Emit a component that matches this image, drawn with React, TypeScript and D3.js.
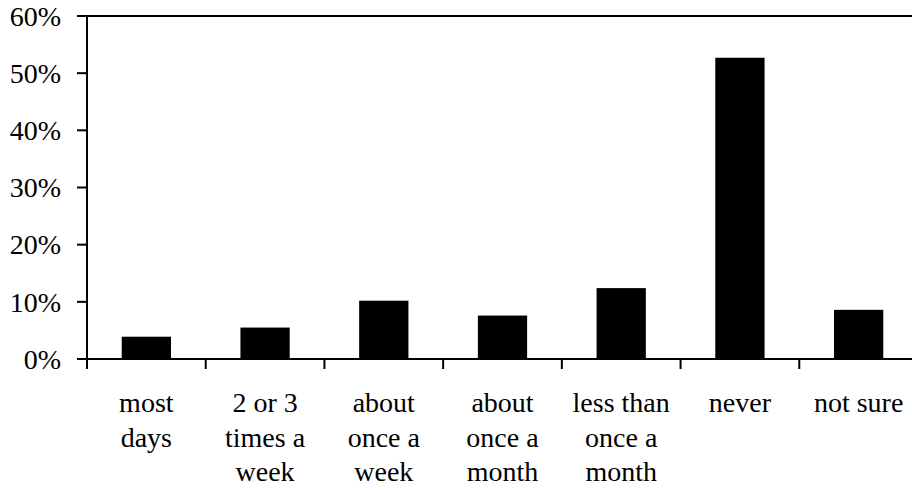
import React from "react";
import * as d3 from "d3";

const categories: string[][] = [
  ["most", "days"],
  ["2 or 3", "times a", "week"],
  ["about", "once a", "week"],
  ["about", "once a", "month"],
  ["less than", "once a", "month"],
  ["never"],
  ["not sure"],
];
const values: number[] = [0.039, 0.055, 0.102, 0.076, 0.124, 0.527, 0.086];
const yTicks: number[] = [0, 0.1, 0.2, 0.3, 0.4, 0.5, 0.6];

const W = 912;
const H = 490;
const left = 87;
const right = 918;
const top = 16;
const bottom = 359;
const textStyle: React.CSSProperties = {
  fontFamily: '"Liberation Serif", "Times New Roman", Times, serif',
  fontSize: "28px",
};

export default function App() {
  const ids = categories.map((_, i) => String(i));
  const p = 0.585;
  const x = d3.scaleBand<string>().domain(ids).range([left, right]).paddingInner(p).paddingOuter(p / 2);
  const slot = d3.scaleBand<string>().domain(ids).range([left, right]).padding(0);
  const y = d3.scaleLinear().domain([0, 0.6]).range([bottom, top]);
  const fmt = d3.format(".0%");
  const boundaries = ids.map((id) => slot(id) as number).concat([right]);

  return (
    <svg
      width={W}
      height={H}
      style={{ position: "absolute", left: 0, top: 0, display: "block", background: "#fff" }}
    >
      {values.map((v, i) => (
        <rect key={i} x={x(ids[i])} y={y(v)} width={x.bandwidth()} height={y(0) - y(v)} fill="#000" />
      ))}
      {/* y axis */}
      <line x1={left} x2={left} y1={top} y2={bottom + 10} stroke="#000" strokeWidth={2} />
      {yTicks.map((t) => (
        <g key={t}>
          <line x1={left - 10} x2={left} y1={y(t)} y2={y(t)} stroke="#000" strokeWidth={2} />
          <text x={61} y={y(t)} dy="0.35em" textAnchor="end" style={textStyle} fill="#000">
            {fmt(t)}
          </text>
        </g>
      ))}
      {/* top frame line */}
      <line x1={left} x2={right} y1={y(0.6)} y2={y(0.6)} stroke="#000" strokeWidth={2} />
      {/* x axis */}
      <line x1={left - 10} x2={right} y1={bottom} y2={bottom} stroke="#000" strokeWidth={2} />
      {boundaries.map((b, i) => (
        <line key={i} x1={b} x2={b} y1={bottom} y2={bottom + 10} stroke="#000" strokeWidth={2} />
      ))}
      {categories.map((lines, i) => {
        const cx = (slot(ids[i]) as number) + slot.bandwidth() / 2;
        return (
          <text key={i} x={cx} y={412} textAnchor="middle" style={textStyle} fill="#000">
            {lines.map((l, j) => (
              <tspan key={j} x={cx} dy={j === 0 ? 0 : 34.5}>
                {l}
              </tspan>
            ))}
          </text>
        );
      })}
    </svg>
  );
}
